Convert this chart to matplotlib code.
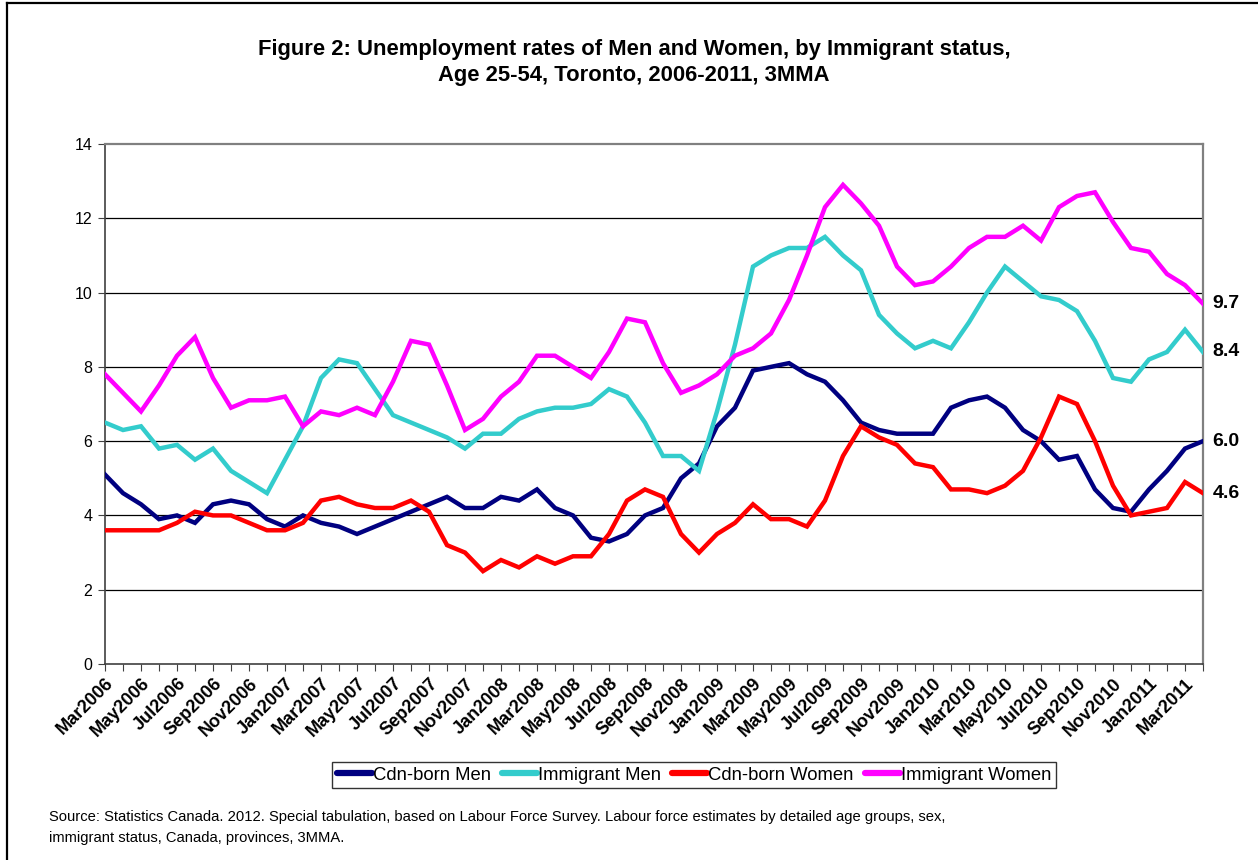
import matplotlib
matplotlib.use("Agg")
import matplotlib.pyplot as plt
from matplotlib.lines import Line2D
import pandas as pd

plt.rcParams['font.family'] = ['Liberation Sans', 'DejaVu Sans']

months = [p.strftime('%b%Y') for p in pd.period_range('2006-03', '2011-04', freq='M')]

tick_labels = ['Mar2006', 'May2006', 'Jul2006', 'Sep2006', 'Nov2006', 'Jan2007', 'Mar2007',
               'May2007', 'Jul2007', 'Sep2007', 'Nov2007', 'Jan2008', 'Mar2008', 'May2008',
               'Jul2008', 'Sep2008', 'Nov2008', 'Jan2009', 'Mar2009', 'May2009', 'Jul2009',
               'Sep2009', 'Nov2009', 'Jan2010', 'Mar2010', 'May2010', 'Jul2010', 'Sep2010',
               'Nov2010', 'Jan2011', 'Mar2011']

cdn_men = [5.1, 4.6, 4.3, 3.9, 4.0, 3.8, 4.3, 4.4, 4.3, 3.9, 3.7, 4.0, 3.8, 3.7, 3.5, 3.7,
           3.9, 4.1, 4.3, 4.5, 4.2, 4.2, 4.5, 4.4, 4.7, 4.2, 4.0, 3.4, 3.3, 3.5, 4.0, 4.2,
           5.0, 5.4, 6.4, 6.9, 7.9, 8.0, 8.1, 7.8, 7.6, 7.1, 6.5, 6.3, 6.2, 6.2, 6.2, 6.9,
           7.1, 7.2, 6.9, 6.3, 6.0, 5.5, 5.6, 4.7, 4.2, 4.1, 4.7, 5.2, 5.8, 6.0]

imm_men = [6.5, 6.3, 6.4, 5.8, 5.9, 5.5, 5.8, 5.2, 4.9, 4.6, 5.5, 6.4, 7.7, 8.2, 8.1, 7.4,
           6.7, 6.5, 6.3, 6.1, 5.8, 6.2, 6.2, 6.6, 6.8, 6.9, 6.9, 7.0, 7.4, 7.2, 6.5, 5.6,
           5.6, 5.2, 6.8, 8.6, 10.7, 11.0, 11.2, 11.2, 11.5, 11.0, 10.6, 9.4, 8.9, 8.5, 8.7, 8.5,
           9.2, 10.0, 10.7, 10.3, 9.9, 9.8, 9.5, 8.7, 7.7, 7.6, 8.2, 8.4, 9.0, 8.4]

cdn_women = [3.6, 3.6, 3.6, 3.6, 3.8, 4.1, 4.0, 4.0, 3.8, 3.6, 3.6, 3.8, 4.4, 4.5, 4.3, 4.2,
             4.2, 4.4, 4.1, 3.2, 3.0, 2.5, 2.8, 2.6, 2.9, 2.7, 2.9, 2.9, 3.5, 4.4, 4.7, 4.5,
             3.5, 3.0, 3.5, 3.8, 4.3, 3.9, 3.9, 3.7, 4.4, 5.6, 6.4, 6.1, 5.9, 5.4, 5.3, 4.7,
             4.7, 4.6, 4.8, 5.2, 6.1, 7.2, 7.0, 6.0, 4.8, 4.0, 4.1, 4.2, 4.9, 4.6]

imm_women = [7.8, 7.3, 6.8, 7.5, 8.3, 8.8, 7.7, 6.9, 7.1, 7.1, 7.2, 6.4, 6.8, 6.7, 6.9, 6.7,
             7.6, 8.7, 8.6, 7.5, 6.3, 6.6, 7.2, 7.6, 8.3, 8.3, 8.0, 7.7, 8.4, 9.3, 9.2, 8.1,
             7.3, 7.5, 7.8, 8.3, 8.5, 8.9, 9.8, 11.0, 12.3, 12.9, 12.4, 11.8, 10.7, 10.2, 10.3, 10.7,
             11.2, 11.5, 11.5, 11.8, 11.4, 12.3, 12.6, 12.7, 11.9, 11.2, 11.1, 10.5, 10.2, 9.7]

series_names = ['Cdn-born Men', 'Immigrant Men', 'Cdn-born Women', 'Immigrant Women']
series_vals = [cdn_men, imm_men, cdn_women, imm_women]
colors = ['#000080', '#33CCCC', '#FF0000', '#FF00FF']

W, H = 1258, 860
fig = plt.figure(figsize=(W / 100, H / 100), dpi=100)
fig.patch.set_facecolor('white')

# partial outer frame (top and left)
fig.add_artist(Line2D([7 / W, 1.0], [1 - 3 / H, 1 - 3 / H], transform=fig.transFigure,
                      color='black', lw=1.6))
fig.add_artist(Line2D([7 / W, 7 / W], [0, 1 - 3 / H], transform=fig.transFigure,
                      color='black', lw=1.6))

L, R, T, B = 105, 1203, 144, 664
ax = fig.add_axes([L / W, 1 - B / H, (R - L) / W, (B - T) / H])

x = list(range(len(months)))
for name, vals, c in zip(series_names, series_vals, colors):
    ax.plot(x, vals, color=c, lw=3.2, label=name, solid_joinstyle='miter', zorder=3)

ax.set_xlim(0, len(months) - 1)
ax.set_ylim(0, 14)
ax.set_yticks(range(0, 15, 2))
ax.set_yticklabels([str(v) for v in range(0, 15, 2)], fontsize=11.5)
for yv in range(2, 14, 2):
    ax.axhline(yv, color='black', lw=0.9, zorder=1)

ax.set_xticks(x)
lab = [m if m in tick_labels else '' for m in months]
ax.set_xticklabels(lab, rotation=45, ha='right', rotation_mode='anchor',
                   fontsize=13, fontweight='bold')
ax.tick_params(axis='x', direction='out', length=5, width=0.8, color='#404040', pad=3)
ax.tick_params(axis='y', direction='out', length=5, width=0.8, color='#404040', pad=4)

for s in ['top', 'right']:
    ax.spines[s].set_color('#808080')
    ax.spines[s].set_linewidth(1.6)
ax.spines['left'].set_color('#404040')
ax.spines['bottom'].set_color('#404040')
ax.spines['left'].set_linewidth(1.2)
ax.spines['bottom'].set_linewidth(1.2)

# end labels
for vals in series_vals:
    ax.annotate(f'{vals[-1]:.1f}', xy=(x[-1], vals[-1]), xytext=(7, 0),
                textcoords='offset points', va='center', ha='left',
                fontsize=14, fontweight='bold', annotation_clip=False)

fig.text(634 / W, 1 - 49 / H, 'Figure 2: Unemployment rates of Men and Women, by Immigrant status,',
         ha='center', va='center', fontsize=15.8, fontweight='bold')
fig.text(634 / W, 1 - 76 / H, 'Age 25-54, Toronto, 2006-2011, 3MMA',
         ha='center', va='center', fontsize=15.8, fontweight='bold')

leg = fig.legend(loc='center', bbox_to_anchor=(694 / W, 1 - 775 / H), ncol=4,
                 fontsize=13.3, frameon=True, fancybox=False, edgecolor='black',
                 handlelength=1.9, handletextpad=0.05, columnspacing=0.6,
                 borderpad=0.25, borderaxespad=0)
leg.get_frame().set_linewidth(1.0)
for h in leg.get_lines():
    h.set_linewidth(4.5)
    h.set_solid_capstyle('round')

fig.text(49 / W, 1 - 817 / H,
         'Source: Statistics Canada. 2012. Special tabulation, based on Labour Force Survey. '
         'Labour force estimates by detailed age groups, sex,',
         ha='left', va='center', fontsize=10.6)
fig.text(49 / W, 1 - 838 / H, 'immigrant status, Canada, provinces, 3MMA.',
         ha='left', va='center', fontsize=10.6)

fig.savefig('out.png', dpi=100, facecolor='white')
